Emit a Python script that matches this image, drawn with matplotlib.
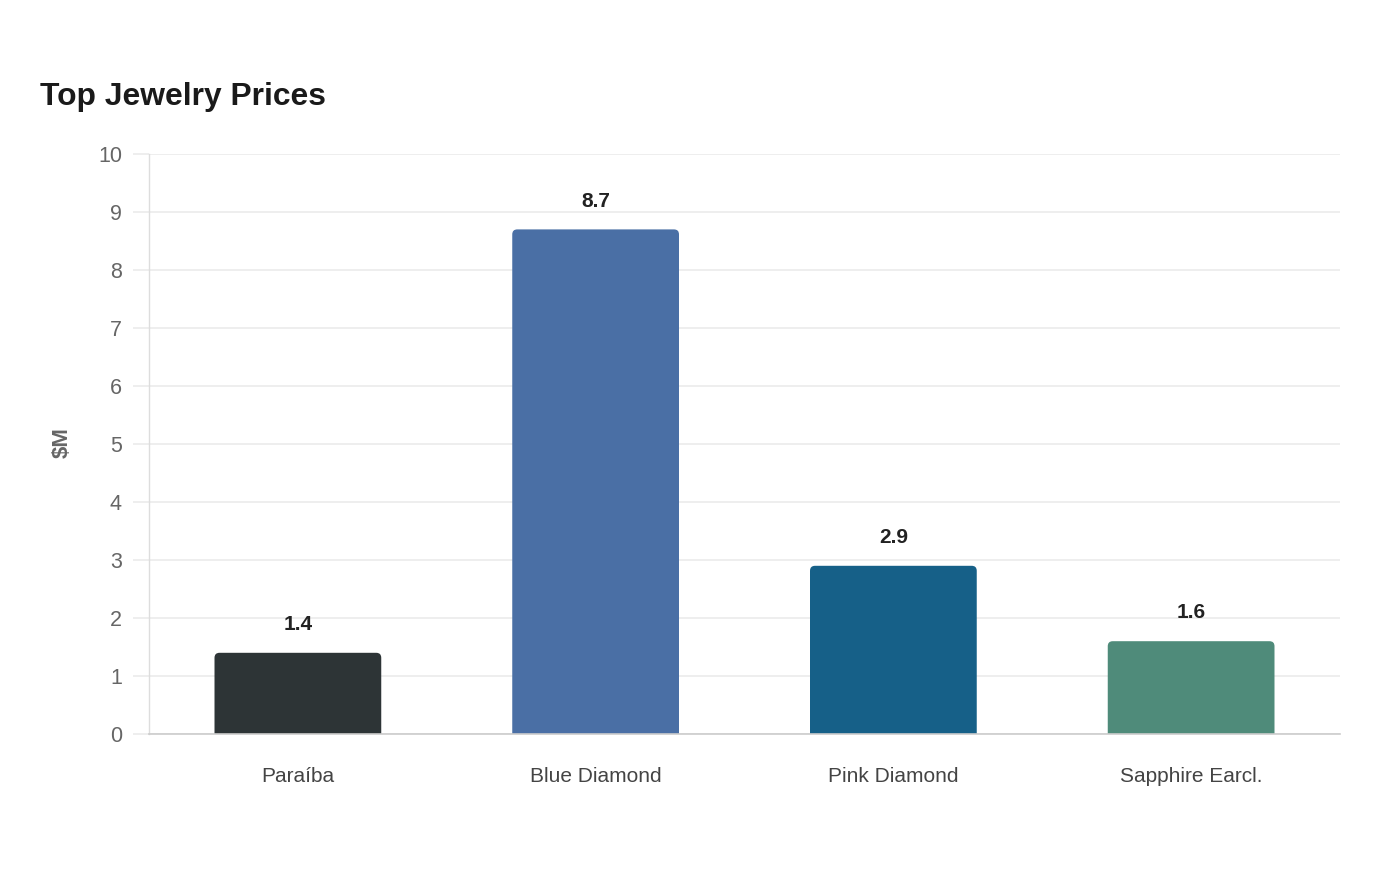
import matplotlib
matplotlib.use("Agg")
import matplotlib.pyplot as plt
from matplotlib.patches import FancyBboxPatch

categories = ["Paraíba", "Blue Diamond", "Pink Diamond", "Sapphire Earcl."]
values = [1.4, 8.7, 2.9, 1.6]
colors = ["#2d3436", "#4a6fa5", "#166088", "#4f8b7a"]
yticks = [0, 1, 2, 3, 4, 5, 6, 7, 8, 9, 10]
title = "Top Jewelry Prices"
ylabel = "$M"

plt.rcParams["font.family"] = ["Liberation Sans", "DejaVu Sans"]

fig = plt.figure(figsize=(14, 8.8), dpi=100)
ax = fig.add_axes([149/1400, (880-734)/880, (1340-149)/1400, (734-154)/880])

ax.set_xlim(-0.5, len(categories) - 0.5)
ax.set_ylim(0, 10)

bar_w = 0.56
px_x = (1340 - 149) / len(categories)
px_y = (734 - 154) / 10
aspect = px_x / px_y
r = 5 / px_x
for i, (v, c) in enumerate(zip(values, colors)):
    p = FancyBboxPatch((i - bar_w/2, -0.5), bar_w, v + 0.5,
                       boxstyle=f"round,pad=0,rounding_size={r}",
                       mutation_aspect=aspect, facecolor=c, edgecolor="none",
                       zorder=3, clip_on=True)
    ax.add_patch(p)
    ax.annotate(f"{v:.1f}", xy=(i, v), xytext=(0, 13.5), textcoords="offset points",
                ha="center", va="bottom", fontsize=15, fontweight="bold", color="#222222")

ax.set_yticks(yticks)
ax.set_yticklabels([str(t) for t in yticks])
ax.set_xticks(range(len(categories)))
ax.set_xticklabels(categories)

ax.grid(axis="y", color="#ebebeb", linewidth=1.2, zorder=0)
ax.set_axisbelow(True)
ax.tick_params(axis="y", length=11.5, width=1.2, color="#ebebeb", pad=8,
               labelsize=15.5, labelcolor="#666666")
ax.tick_params(axis="x", length=0, pad=24, labelsize=15, labelcolor="#444444")

for s in ["top", "right"]:
    ax.spines[s].set_visible(False)
ax.spines["left"].set_color("#dddddd")
ax.spines["left"].set_linewidth(1.0)
ax.spines["bottom"].set_color("#cccccc")
ax.spines["bottom"].set_linewidth(1.2)
ax.spines["bottom"].set_zorder(4)

fig.text(62/1400, 1 - 443/880, ylabel, rotation=90, ha="center", va="center",
         fontsize=16, fontweight="bold", color="#666666")
fig.text(40/1400, 1 - 97/880, title, ha="left", va="center",
         fontsize=22.9, fontweight="bold", color="#1a1a1a")

fig.savefig("out.png", dpi=100, facecolor="white")
